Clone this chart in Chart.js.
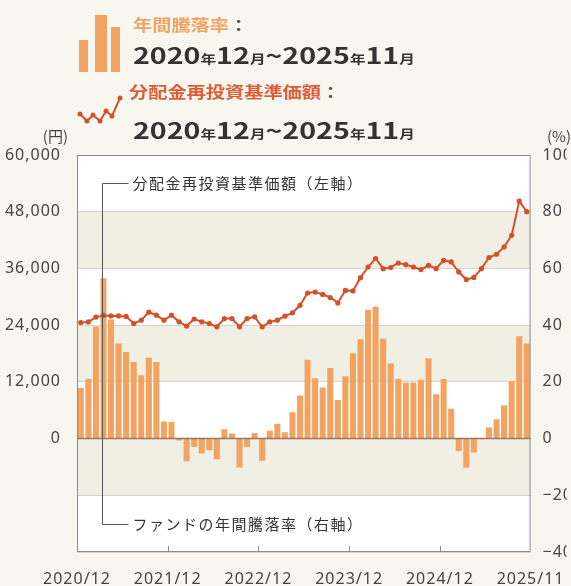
<!DOCTYPE html>
<html lang="ja">
<head>
<meta charset="utf-8">
<script src="https://cdn.jsdelivr.net/npm/chart.js@4"></script>
<style>
  html, body { margin: 0; padding: 0; background: #f7f6ef; }
  #wrap { position: relative; width: 571px; height: 586px; overflow: hidden; }
  #chart { position: absolute; left: 0; top: 0; }
  #legend { position: absolute; left: 0; top: 0; width: 571px; height: 150px; pointer-events: none; }
  .lg { position: absolute; left: 133px; white-space: nowrap; transform-origin: left top; transform: scaleX(1.2);
        font-family: "Noto Sans CJK JP", "Noto Sans", sans-serif; font-weight: bold; }
  .name { font-size: 16px; line-height: 16px; }
  .name .c { color: #555; }
  .period { font-size: 22px; line-height: 22px; color: #333; transform: scaleX(1.3); }
  .period small { font-size: 12px; }
</style>
</head>
<body>
<div id="wrap">
  <canvas id="chart" width="571" height="586"></canvas>
  <div id="legend">
    <svg width="130" height="130" style="position:absolute;left:0;top:0">
      <rect x="79" y="40" width="9" height="32" fill="#f2a362"/>
      <rect x="95" y="15" width="12" height="57" fill="#f2a362"/>
      <rect x="111" y="27" width="9" height="45" fill="#f2a362"/>
      <polyline points="80,114 87,121 93,115 100,121 106,111 112,116 120,98" fill="none" stroke="#d4502a" stroke-width="2"/>
      <g fill="#d4502a">
        <circle cx="80" cy="114" r="2.5"/><circle cx="87" cy="121" r="2.5"/><circle cx="93" cy="115" r="2.5"/>
        <circle cx="100" cy="121" r="2.5"/><circle cx="106" cy="111" r="2.5"/><circle cx="112" cy="116" r="2.5"/>
        <circle cx="120" cy="98" r="2.5"/>
      </g>
    </svg>
    <div class="lg name" style="top:16px;color:#f2a362">年間騰落率<span class="c">：</span></div>
    <div class="lg period" style="top:43px">2020<small>年</small>12<small>月</small>~2025<small>年</small>11<small>月</small></div>
    <div class="lg name" style="top:83px;left:129px;color:#de5d36">分配金再投資基準価額<span class="c">：</span></div>
    <div class="lg period" style="top:118px">2020<small>年</small>12<small>月</small>~2025<small>年</small>11<small>月</small></div>
  </div>
</div>
<script>
// 年間騰落率 (%), 2020/12 - 2025/11 の月次
const annualReturn = [
  17.8, 21.0, 39.5, 56.5, 42.0, 33.5, 30.5, 27.0, 22.3, 28.5, 27.0, 6.0,
  5.8, -0.7, -8.0, -3.0, -5.3, -4.1, -7.3, 3.3, 1.8, -10.2, -3.0, 2.0,
  -7.8, 2.8, 5.2, 2.2, 9.3, 15.2, 27.8, 21.3, 18.0, 24.9, 13.6, 22.0,
  30.1, 35.0, 45.4, 46.5, 35.3, 26.5, 21.0, 19.8, 19.8, 20.7, 28.3, 15.6,
  21.0, 10.5, -4.4, -10.3, -4.9, 0.0, 3.9, 6.8, 11.7, 20.2, 36.1, 33.5
];

// 分配金再投資基準価額 (円)
const navReinvested = [
  24550, 24680, 25700, 26050, 25950, 25950, 25850, 24350, 25050, 26750, 26100, 25050,
  26100, 24700, 23800, 25300, 24700, 24350, 23650, 25400, 25400, 23650, 25400, 25750,
  23650, 24700, 25050, 25900, 26600, 28200, 30800, 31000, 30500, 29850, 28700, 31350,
  31250, 34050, 36300, 38100, 35950, 36200, 37150, 36800, 36300, 35750, 36650, 35950,
  37700, 37400, 35250, 33650, 34100, 35950, 38300, 39000, 40550, 43000, 50250, 48000
];

const xTickPos = [0, 12, 24, 36, 48, 60];
const xTickLabels = ['2020/12', '2021/12', '2022/12', '2023/12', '2024/12', '2025/11'];

const leftTickValues = [0, 12000, 24000, 36000, 48000, 60000];
const leftTickLabels = ['0', '12,000', '24,000', '36,000', '48,000', '60,000'];

const rightTickValues = [-40, -20, 0, 20, 40, 60, 80, 100];
const rightTickLabels = ['\u221240', '\u221220', '0', '20', '40', '60', '80', '100'];

// 帯（ベージュ）の範囲 (%)
const bandRanges = [[60, 80], [20, 40], [-20, 0]];

const barPoints = annualReturn.map((v, i) => ({ x: i + 0.5, y: v }));
const linePoints = navReinvested.map((v, i) => ({ x: i + 0.5, y: v }));

const C_BAR = '#f2a362';
const C_LINE = '#d4502a';
const tickFont = { family: '"Noto Sans", sans-serif', size: 16 };

const decor = {
  id: 'decor',
  beforeDraw(chart) {
    const { ctx, chartArea: a, scales } = chart;
    const yR = scales.yR;
    ctx.save();
    ctx.fillStyle = '#ffffff';
    ctx.fillRect(a.left, a.top, a.right - a.left, a.bottom - a.top);
    ctx.fillStyle = '#f1eee3';
    bandRanges.forEach(([lo, hi]) => {
      const y1 = yR.getPixelForValue(hi), y2 = yR.getPixelForValue(lo);
      ctx.fillRect(a.left, y1, a.right - a.left, y2 - y1);
    });
    ctx.restore();
    ctx.letterSpacing = '1px';
  },
  afterDatasetsDraw(chart) {
    const { ctx, chartArea: a, scales } = chart;
    const x = scales.x, yR = scales.yR, yL = scales.yL;
    ctx.save();
    // 0% line
    const y0 = yR.getPixelForValue(0);
    ctx.strokeStyle = '#9a765a';
    ctx.lineWidth = 1.5;
    ctx.beginPath();
    ctx.moveTo(a.left, y0); ctx.lineTo(a.right, y0);
    ctx.stroke();

    // leader lines and notes
    const lx = Math.round(x.getPixelForValue(3.25)) + 0.5;
    const ty = Math.round(yL.getPixelForValue(54000)) + 0.5;
    const by = Math.round(yR.getPixelForValue(-30)) + 0.5;
    ctx.strokeStyle = '#555';
    ctx.lineWidth = 1;
    ctx.beginPath();
    ctx.moveTo(lx + 26, ty); ctx.lineTo(lx, ty); ctx.lineTo(lx, by); ctx.lineTo(lx + 26, by);
    ctx.stroke();
    ctx.fillStyle = '#333';
    ctx.font = '15px "Noto Sans CJK JP"';
    ctx.letterSpacing = '1.5px';
    ctx.textBaseline = 'middle';
    ctx.fillText('分配金再投資基準価額（左軸）', lx + 30, ty);
    ctx.fillText('ファンドの年間騰落率（右軸）', lx + 30, by);

    // frame
    ctx.strokeStyle = '#8c8c8c';
    ctx.lineWidth = 1;
    ctx.strokeRect(a.left + 0.5, a.top + 0.5, a.right - a.left - 1, a.bottom - a.top - 1);

    // inward x ticks
    ctx.beginPath();
    xTickPos.slice(1, -1).forEach(v => {
      const px = Math.round(x.getPixelForValue(v)) + 0.5;
      ctx.moveTo(px, a.bottom); ctx.lineTo(px, a.bottom - 6);
    });
    ctx.stroke();

    // axis units
    ctx.letterSpacing = '0px';
    ctx.font = '15px "Noto Sans CJK JP"';
    ctx.fillStyle = '#444';
    ctx.textAlign = 'right';
    ctx.fillText('(円)', 68, 136);
    ctx.textAlign = 'left';
    ctx.fillText('(%)', 547, 136);
    ctx.restore();
    ctx.letterSpacing = '1px';
  }
};

new Chart(document.getElementById('chart'), {
  data: {
    datasets: [
      {
        type: 'line',
        label: '分配金再投資基準価額',
        data: linePoints,
        yAxisID: 'yL',
        borderColor: C_LINE,
        backgroundColor: C_LINE,
        borderWidth: 2,
        pointRadius: 2.6,
        pointBorderWidth: 0,
        tension: 0,
        order: 0
      },
      {
        type: 'bar',
        label: '年間騰落率',
        data: barPoints,
        yAxisID: 'yR',
        backgroundColor: C_BAR,
        borderWidth: 0,
        categoryPercentage: 1,
        barPercentage: 0.8,
        order: 1
      }
    ]
  },
  options: {
    responsive: false,
    animation: false,
    events: [],
    layout: { padding: { top: 155, left: 0, right: 0, bottom: 0 } },
    plugins: { legend: { display: false }, tooltip: { enabled: false } },
    scales: {
      x: {
        type: 'linear',
        min: 0, max: 60,
        offset: false,
        afterFit: s => { s.height = 34; },
        afterBuildTicks: s => { s.ticks = xTickPos.map(v => ({ value: v })); },
        grid: { display: false },
        border: { display: false },
        ticks: {
          autoSkip: false, maxRotation: 0, padding: 10, color: '#444', font: tickFont,
          callback: v => xTickLabels[xTickPos.indexOf(v)]
        }
      },
      yL: {
        position: 'left',
        min: -24000, max: 60000,
        afterFit: s => { s.width = 77; },
        afterBuildTicks: s => { s.ticks = leftTickValues.map(v => ({ value: v })); },
        grid: { display: false },
        border: { display: false },
        ticks: {
          padding: 8, color: '#444', font: tickFont,
          callback: v => leftTickLabels[leftTickValues.indexOf(v)]
        }
      },
      yR: {
        position: 'right',
        min: -40, max: 100,
        afterFit: s => { s.width = 36; },
        afterBuildTicks: s => { s.ticks = rightTickValues.map(v => ({ value: v })); },
        grid: { color: '#d6d3cb', drawTicks: false, lineWidth: 1 },
        border: { display: false },
        ticks: {
          padding: 12, color: '#444', font: tickFont,
          callback: v => rightTickLabels[rightTickValues.indexOf(v)]
        }
      }
    }
  },
  plugins: [decor]
});
</script>
</body>
</html>
